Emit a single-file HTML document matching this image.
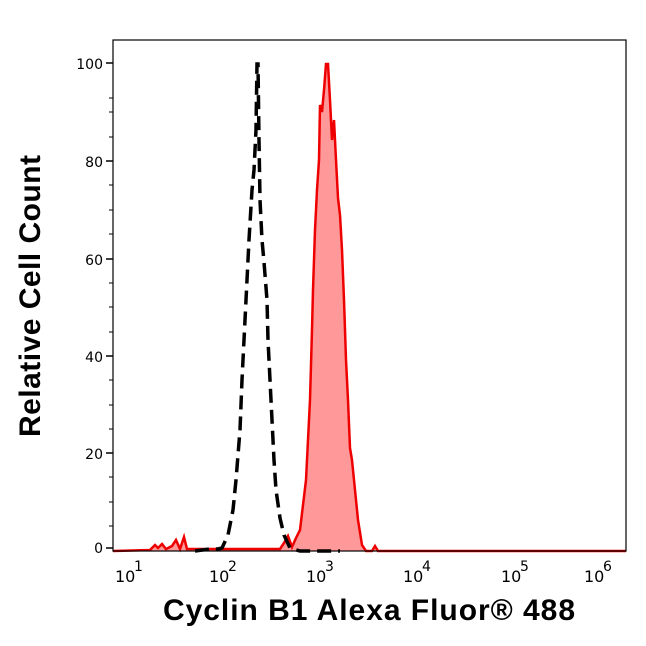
<!DOCTYPE html>
<html><head><style>body{margin:0;background:#fff}</style></head><body>
<svg width="646" height="641" xmlns="http://www.w3.org/2000/svg" style="font-family:'DejaVu Sans','Liberation Sans',sans-serif">
<rect width="646" height="641" fill="#fff"/>
<path d="M113,551 L150,550 L155,545 L158,548 L162,544 L166,549 L172,546 L176,540 L180,549 L184,537 L187,549 L195,549 L280,549 L284,543 L288,536 L292,547 L296,538 L300,530 L303,505 L306,480 L308,440 L310,400 L312,330 L313,290 L315,230 L317,190 L319,160 L320,105 L322,112 L324,90 L326,64 L328,64 L330,100 L332,140 L334,120 L336,160 L338,198 L340,215 L342,250 L344,300 L346,360 L348,400 L350,448 L352,460 L354,480 L356,500 L358,520 L362,545 L366,551 L372,551 L375,546 L378,551 L626,551" fill="#ff9999" stroke="#ee0000" stroke-width="2.5"/>
<path d="M195,551 L210,549 L218,549 L222,548 L228,535 L233,510 L236,480 L240,430 L242,380 L244,340 L247,280 L249,240 L252,190 L254,170 L256,130 L257,64 L258,64 L259,140 L260,200 L262,240 L264,262 L267,300 L268,340 L270,380 L272,420 L274,460 L276,490 L280,518 L284,535 L290,548 L300,551 L340,551" fill="none" stroke="#000" stroke-width="3.5" stroke-dasharray="14,7"/>
<rect x="113" y="40" width="513" height="511" fill="none" stroke="#000" stroke-width="1.2"/>
<g stroke="#000" stroke-width="1.5">
<line x1="106" y1="63" x2="113" y2="63"/><line x1="106" y1="161" x2="113" y2="161"/><line x1="106" y1="259" x2="113" y2="259"/><line x1="106" y1="356" x2="113" y2="356"/><line x1="106" y1="453" x2="113" y2="453"/><line x1="106" y1="548" x2="113" y2="548"/>
</g>
<g stroke="#000" stroke-width="1">
<line x1="109" y1="98" x2="113" y2="98"/><line x1="109" y1="112" x2="113" y2="112"/><line x1="109" y1="137" x2="113" y2="137"/>
<line x1="109" y1="185" x2="113" y2="185"/><line x1="109" y1="210" x2="113" y2="210"/><line x1="109" y1="234" x2="113" y2="234"/>
<line x1="109" y1="283" x2="113" y2="283"/><line x1="109" y1="307" x2="113" y2="307"/><line x1="109" y1="332" x2="113" y2="332"/>
<line x1="109" y1="380" x2="113" y2="380"/><line x1="109" y1="405" x2="113" y2="405"/><line x1="109" y1="429" x2="113" y2="429"/>
<line x1="109" y1="477" x2="113" y2="477"/><line x1="109" y1="502" x2="113" y2="502"/><line x1="109" y1="526" x2="113" y2="526"/>
</g>
<g font-size="14" text-anchor="end" fill="#000">
<text x="103" y="69">100</text><text x="103" y="167">80</text><text x="103" y="265">60</text><text x="103" y="362">40</text><text x="103" y="459">20</text><text x="103" y="553">0</text>
</g>
<g id="xt" stroke="#000"></g>
<g font-size="16" fill="#000">
<text x="115" y="582">10</text><text x="134" y="571" font-size="14">1</text>
<text x="209" y="582">10</text><text x="228" y="571" font-size="14">2</text>
<text x="306" y="582">10</text><text x="325" y="571" font-size="14">3</text>
<text x="403" y="582">10</text><text x="422" y="571" font-size="14">4</text>
<text x="501" y="582">10</text><text x="520" y="571" font-size="14">5</text>
<text x="584" y="582">10</text><text x="603" y="571" font-size="14">6</text>
</g>
<text x="369" y="620" font-family="'Liberation Sans',sans-serif" font-weight="bold" font-size="30" text-anchor="middle" textLength="412">Cyclin B1 Alexa Fluor® 488</text>
<text transform="translate(40,296) rotate(-90)" font-family="'Liberation Sans',sans-serif" font-weight="bold" font-size="30" text-anchor="middle" textLength="282">Relative Cell Count</text>
<script>
var g=document.getElementById('xt'),s='',d=98.4,x0=113;
for(var k=0;k<6;k++){var b=x0+k*d;s+='<line x1="'+b+'" y1="551" x2="'+b+'" y2="558" stroke-width="1.5"/>';
if(k<5)for(var m=2;m<10;m++){var x=b+Math.log10(m)*d;s+='<line x1="'+x+'" y1="551" x2="'+x+'" y2="555" stroke-width="1"/>';}}
g.innerHTML=s;
</script>
</svg>
</body></html>
